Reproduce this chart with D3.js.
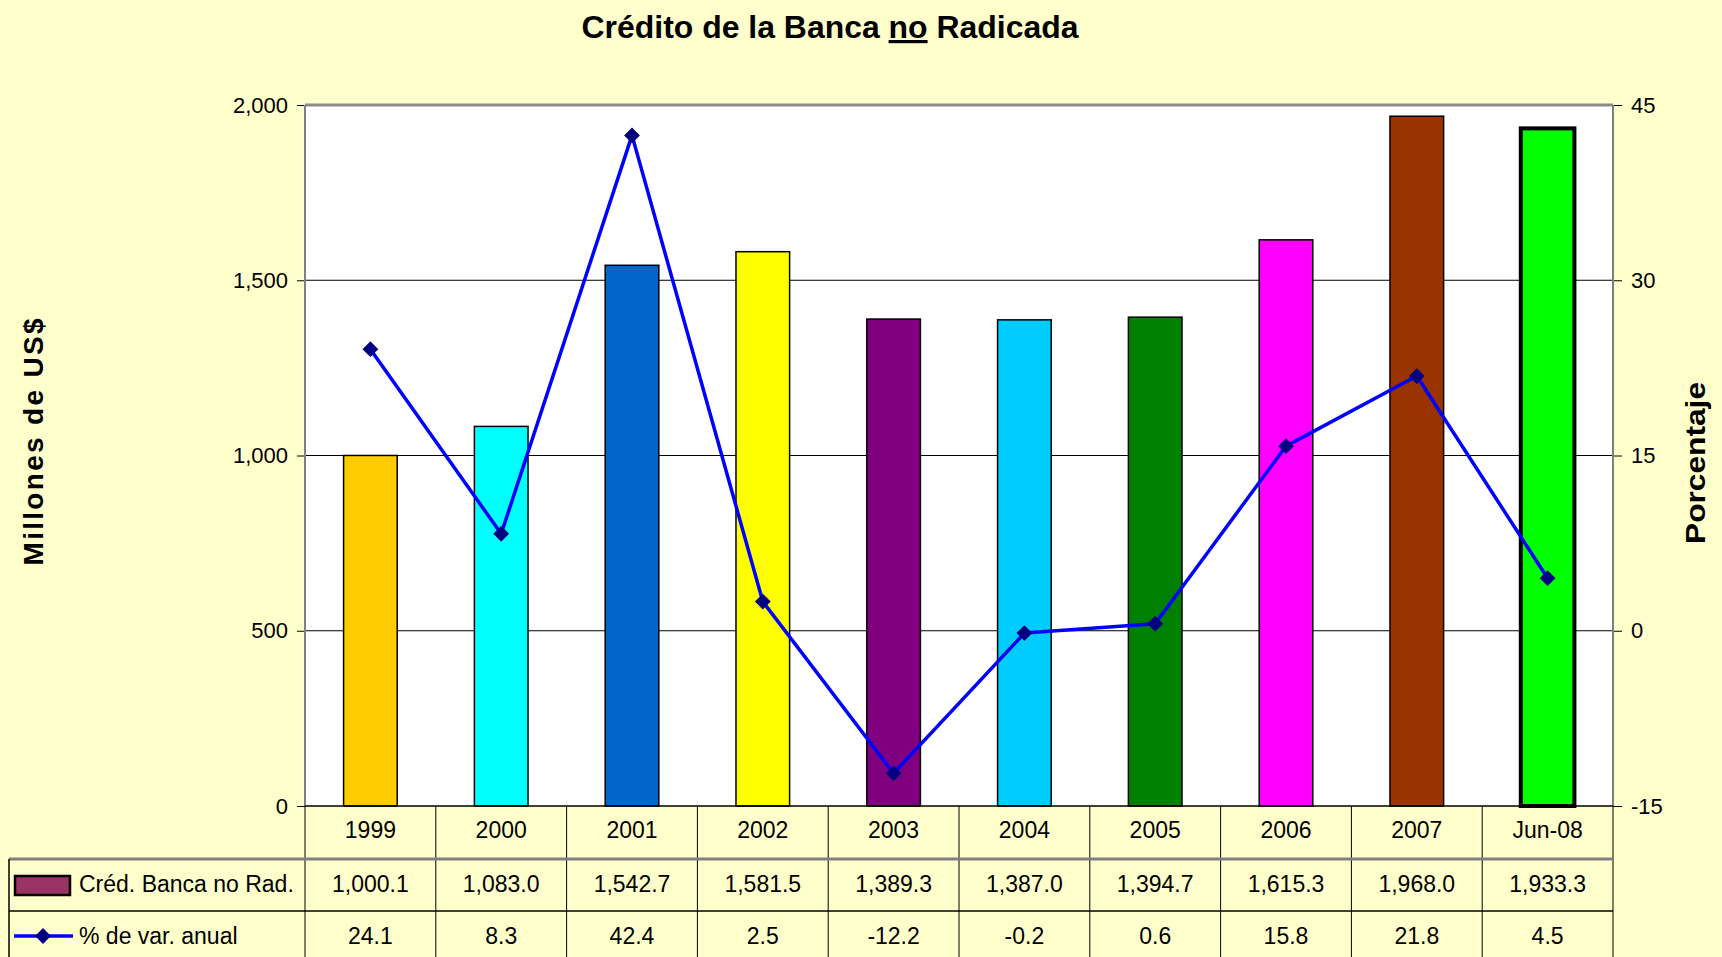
<!DOCTYPE html>
<html>
<head>
<meta charset="utf-8">
<script src="https://cdn.jsdelivr.net/npm/d3@7"></script>
<style>
  html, body { margin: 0; padding: 0; background: #FFFFCC; }
  svg { display: block; font-family: "Liberation Sans", Arial, sans-serif; }
</style>
</head>
<body>
<svg id="chart" width="1722" height="957"></svg>
<script>
// data
const categories = ["1999", "2000", "2001", "2002", "2003", "2004", "2005", "2006", "2007", "Jun-08"]
const creditValues = [1000.1, 1083.0, 1542.7, 1581.5, 1389.3, 1387.0, 1394.7, 1615.3, 1968.0, 1933.3]
const pctValues = [24.1, 8.3, 42.4, 2.5, -12.2, -0.2, 0.6, 15.8, 21.8, 4.5]
const barColors = ["#FFCC00", "#00FFFF", "#0066CC", "#FFFF00", "#800080", "#00CCFF", "#008000", "#FF00FF", "#993300", "#00FF00"]
const leftTicks = [0, 500, 1000, 1500, 2000]
const rightTicks = [-15, 0, 15, 30, 45]
const seriesNames = ["Créd. Banca no Rad.", "% de var. anual"]

const locale = d3.formatLocale({ decimal: ".", thousands: ",", grouping: [3], currency: ["$", ""], minus: "-" })
const fmtCredit = locale.format(",.1f")
const fmtPct = locale.format(".1f")
const fmtLeft = locale.format(",")
const fmtRight = locale.format("d")

const svg = d3.select("#chart")

const plotLeft = 305, plotRight = 1613, plotTop = 105, plotBottom = 806
const tableLeft = 9, rowH = [53, 52, 46]

// plot area background
svg.append("rect")
  .attr("x", plotLeft).attr("y", plotTop)
  .attr("width", plotRight - plotLeft).attr("height", plotBottom - plotTop)
  .attr("fill", "#FFFFFF")

const x = d3.scaleBand().domain(categories).range([plotLeft, plotRight]).padding(0)
const yL = d3.scaleLinear().domain([0, 2000]).range([plotBottom, plotTop])
const yR = d3.scaleLinear().domain([-15, 45]).range([plotBottom, plotTop])
const barW = x.bandwidth() * 0.41
const cx = d => x(d) + x.bandwidth() / 2

// gridlines
svg.append("g")
  .selectAll("line")
  .data(leftTicks.filter(t => t > 0 && t < 2000))
  .enter()
  .append("line")
  .attr("x1", plotLeft).attr("x2", plotRight)
  .attr("y1", d => yL(d)).attr("y2", d => yL(d))
  .attr("stroke", "#000").attr("stroke-width", 1)

// left axis
const gL = svg.append("g")
  .attr("transform", `translate(${plotLeft},0)`)
  .call(d3.axisLeft(yL).tickValues(leftTicks).tickFormat(fmtLeft).tickSize(8).tickPadding(9))
gL.select(".domain").remove()
gL.selectAll("text").attr("font-size", 22).attr("fill", "#000").attr("font-family", "Liberation Sans, Arial, sans-serif")
gL.selectAll("line").attr("stroke", "#000")

// right axis
const gR = svg.append("g")
  .attr("transform", `translate(${plotRight},0)`)
  .call(d3.axisRight(yR).tickValues(rightTicks).tickFormat(fmtRight).tickSize(9).tickPadding(9))
gR.select(".domain").remove()
gR.selectAll("text").attr("font-size", 22).attr("fill", "#000").attr("font-family", "Liberation Sans, Arial, sans-serif")
gR.selectAll("line").attr("stroke", "#000")

// plot frame
svg.append("line")
  .attr("x1", plotLeft).attr("x2", plotRight).attr("y1", plotTop).attr("y2", plotTop)
  .attr("stroke", "#8A8A8A").attr("stroke-width", 3)
svg.append("line")
  .attr("x1", plotLeft).attr("x2", plotLeft).attr("y1", plotTop).attr("y2", plotBottom)
  .attr("stroke", "#808080").attr("stroke-width", 2)
svg.append("line")
  .attr("x1", plotRight).attr("x2", plotRight).attr("y1", plotTop).attr("y2", plotBottom)
  .attr("stroke", "#808080").attr("stroke-width", 2)

// bars
svg.append("g")
  .selectAll("rect")
  .data(creditValues)
  .enter()
  .append("rect")
  .attr("x", (d, i) => cx(categories[i]) - barW / 2)
  .attr("y", d => yL(d))
  .attr("width", barW)
  .attr("height", d => yL(0) - yL(d))
  .attr("fill", (d, i) => barColors[i])
  .attr("stroke", "#000")
  .attr("stroke-width", (d, i) => i === categories.length - 1 ? 4 : 1.5)

// baseline
svg.append("line")
  .attr("x1", plotLeft).attr("x2", plotRight).attr("y1", plotBottom).attr("y2", plotBottom)
  .attr("stroke", "#000").attr("stroke-width", 1.5)

// percentage line
const line = d3.line()
  .x((d, i) => cx(categories[i]))
  .y(d => yR(d))
svg.append("path")
  .datum(pctValues)
  .attr("d", line)
  .attr("fill", "none")
  .attr("stroke", "#0000FF")
  .attr("stroke-width", 3.5)
  .attr("stroke-linejoin", "round")

const diamond = d3.symbol(d3.symbolSquare, 125)
svg.append("g")
  .selectAll("path")
  .data(pctValues)
  .enter()
  .append("path")
  .attr("d", diamond)
  .attr("transform", (d, i) => `translate(${cx(categories[i])},${yR(d)}) rotate(45)`)
  .attr("fill", "#000080")

// data table
const r1 = plotBottom, r2 = r1 + rowH[0], r3 = r2 + rowH[1], r4 = r3 + rowH[2]
const table = svg.append("g")

table.selectAll(".vline")
  .data(d3.range(categories.length + 1))
  .enter()
  .append("line")
  .attr("class", "vline")
  .attr("x1", i => plotLeft + i * x.step()).attr("x2", i => plotLeft + i * x.step())
  .attr("y1", r1).attr("y2", r4)
  .attr("stroke", "#000").attr("stroke-width", 1)

table.append("line")
  .attr("x1", tableLeft).attr("x2", plotRight).attr("y1", r2).attr("y2", r2)
  .attr("stroke", "#808080").attr("stroke-width", 3)
table.append("line")
  .attr("x1", tableLeft).attr("x2", plotRight).attr("y1", r3).attr("y2", r3)
  .attr("stroke", "#000").attr("stroke-width", 1.5)
table.append("line")
  .attr("x1", tableLeft).attr("x2", tableLeft).attr("y1", r2).attr("y2", r4)
  .attr("stroke", "#000").attr("stroke-width", 1.5)

const rowText = (vals, yMid) => table.append("g")
  .selectAll("text")
  .data(vals)
  .enter()
  .append("text")
  .attr("x", (d, i) => cx(categories[i]))
  .attr("y", yMid)
  .attr("dy", "0.35em")
  .attr("text-anchor", "middle")
  .attr("font-size", 23)
  .attr("fill", "#000")
  .text(d => d)

rowText(categories, 830)
rowText(creditValues.map(fmtCredit), 884)
rowText(pctValues.map(fmtPct), 936)

// legend keys in table
table.append("rect")
  .attr("x", 15).attr("y", 876)
  .attr("width", 55).attr("height", 19)
  .attr("fill", "#993366").attr("stroke", "#000").attr("stroke-width", 2.5)
table.append("text")
  .attr("x", 79).attr("y", 884).attr("dy", "0.35em")
  .attr("font-size", 23).text(seriesNames[0])

const legY = 936
table.append("line")
  .attr("x1", 14).attr("x2", 73).attr("y1", legY).attr("y2", legY)
  .attr("stroke", "#0000FF").attr("stroke-width", 3.5)
table.append("path")
  .attr("d", diamond)
  .attr("transform", `translate(43,${legY}) rotate(45)`)
  .attr("fill", "#000080")
table.append("text")
  .attr("x", 79).attr("y", legY).attr("dy", "0.35em")
  .attr("font-size", 23).text(seriesNames[1])

// title
const title = svg.append("text")
  .attr("x", 830).attr("y", 38)
  .attr("text-anchor", "middle")
  .attr("font-size", 32)
  .attr("font-weight", "bold")
  .attr("textLength", 497)
  .attr("lengthAdjust", "spacingAndGlyphs")
title.append("tspan").text("Crédito de la Banca ")
title.append("tspan").attr("text-decoration", "underline").text("no")
title.append("tspan").text(" Radicada")

// axis titles
svg.append("text")
  .attr("transform", "translate(43,442) rotate(-90)")
  .attr("text-anchor", "middle")
  .attr("font-size", 28)
  .attr("font-weight", "bold")
  .attr("textLength", 247)
  .attr("lengthAdjust", "spacing")
  .text("Millones de US$")

svg.append("text")
  .attr("transform", "translate(1705,463) rotate(-90)")
  .attr("text-anchor", "middle")
  .attr("font-size", 28)
  .attr("font-weight", "bold")
  .attr("textLength", 162)
  .attr("lengthAdjust", "spacingAndGlyphs")
  .text("Porcentaje")
</script>
</body>
</html>
